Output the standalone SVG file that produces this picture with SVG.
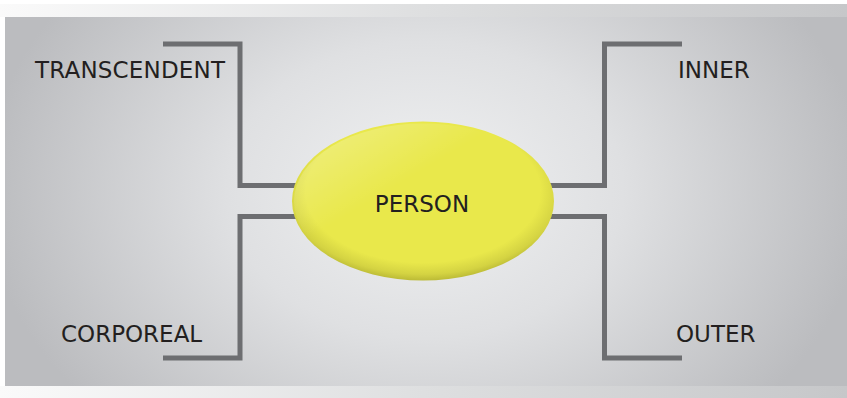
<svg xmlns="http://www.w3.org/2000/svg" width="847" height="398" viewBox="0 0 847 398">
  <defs>
    <linearGradient id="band" x1="0" y1="0" x2="1" y2="0">
      <stop offset="0" stop-color="#fafafa"/>
      <stop offset="0.5" stop-color="#dedfe0"/>
      <stop offset="1" stop-color="#c6c7c9"/>
    </linearGradient>
    <radialGradient id="panel" gradientUnits="userSpaceOnUse" cx="425" cy="190" r="440" gradientTransform="translate(425 190) scale(1 0.75) translate(-425 -190)">
      <stop offset="0" stop-color="#f0f1f2"/>
      <stop offset="0.45" stop-color="#dfe0e2"/>
      <stop offset="1" stop-color="#bbbcbf"/>
    </radialGradient>
    <radialGradient id="egg" cx="0.5" cy="0.44" r="0.56">
      <stop offset="0" stop-color="#e9e84b"/>
      <stop offset="0.8" stop-color="#e9e84b"/>
      <stop offset="0.93" stop-color="#d4d342"/>
      <stop offset="1" stop-color="#bcbb36"/>
    </radialGradient>
    <linearGradient id="hl" x1="0.1" y1="0.1" x2="0.4" y2="0.4">
      <stop offset="0" stop-color="#ffffff" stop-opacity="0.25"/>
      <stop offset="1" stop-color="#ffffff" stop-opacity="0"/>
    </linearGradient>
  </defs>
  <style>
    .wire { fill: none; stroke: #6d6e71; stroke-width: 5; stroke-linejoin: miter; stroke-linecap: butt; }
    .lbl { font-family: "DejaVu Sans", Verdana, sans-serif; font-size: 23px; fill: #231f20; }
  </style>
  <rect x="0" y="0" width="847" height="398" fill="#ffffff"/>
  <rect x="0" y="4" width="847" height="13" fill="url(#band)"/>
  <rect x="0" y="386" width="847" height="12" fill="url(#band)"/>
  <rect x="5" y="17" width="842" height="369" fill="url(#panel)"/>

  <g id="connectors">
    <path class="wire" d="M163,44 H240 V185.5 H310"/>
    <path class="wire" d="M310,216.5 H240 V358 H163"/>
    <path class="wire" d="M682,44 H604.5 V185.5 H540"/>
    <path class="wire" d="M540,216.5 H604.5 V358 H682"/>
  </g>

  <g id="person">
    <ellipse cx="423" cy="201" rx="131" ry="79.5" fill="url(#egg)"/>
    <ellipse cx="423" cy="201" rx="129" ry="77.5" fill="url(#hl)"/>
    <text class="lbl" x="422" y="211.5" text-anchor="middle">PERSON</text>
  </g>
  <g id="transcendent">
    <text class="lbl" x="35" y="78" textLength="190" lengthAdjust="spacing">TRANSCENDENT</text>
  </g>
  <g id="corporeal">
    <text class="lbl" x="61" y="341.5">CORPOREAL</text>
  </g>
  <g id="inner">
    <text class="lbl" x="678" y="77.5">INNER</text>
  </g>
  <g id="outer">
    <text class="lbl" x="676" y="341.5">OUTER</text>
  </g>
</svg>
